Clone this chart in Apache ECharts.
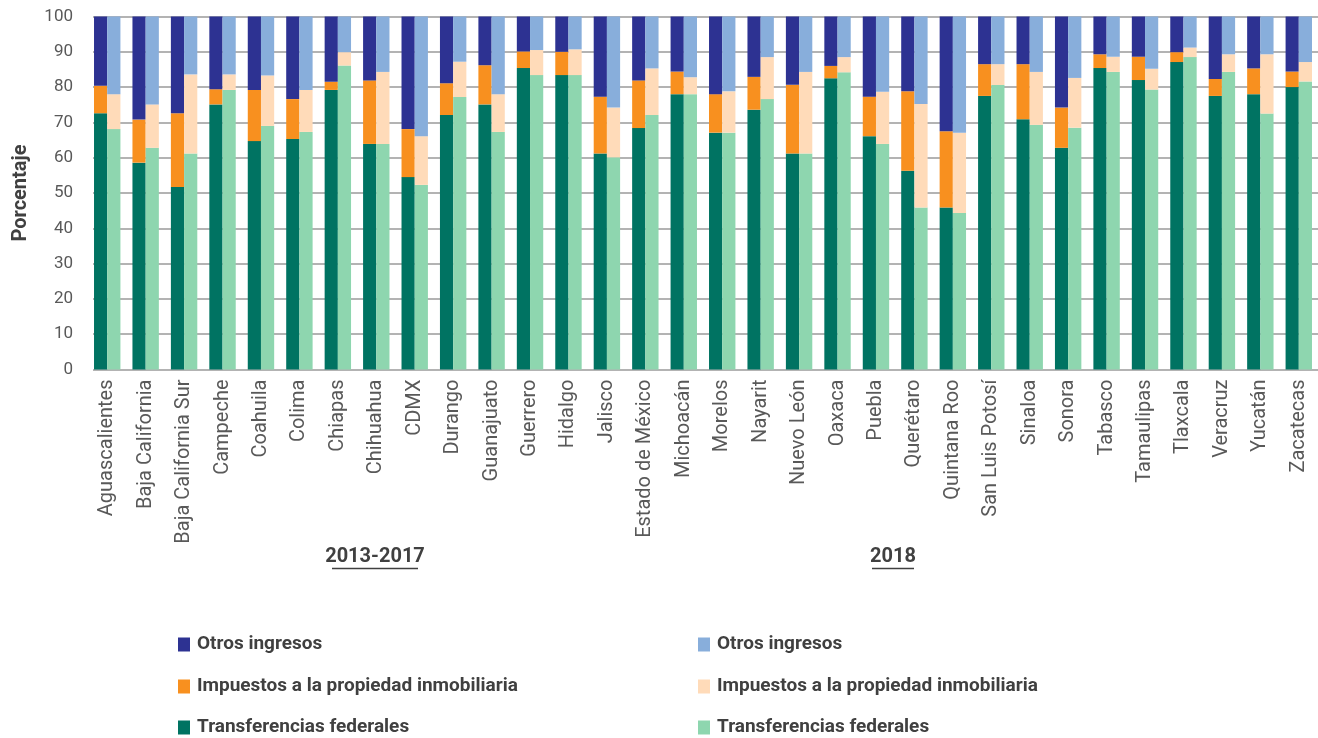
<!DOCTYPE html>
<html>
<head>
<meta charset="utf-8">
<script src="https://cdn.jsdelivr.net/npm/echarts@6/dist/echarts.min.js"></script>
<style>
html,body{margin:0;padding:0;background:#fff;}
#chart{width:1318px;height:738px;}
</style>
</head>
<body>
<div id="chart"></div>
<script>
const categories = ["Aguascalientes","Baja California","Baja California Sur","Campeche","Coahuila","Colima","Chiapas","Chihuahua","CDMX","Durango","Guanajuato","Guerrero","Hidalgo","Jalisco","Estado de México","Michoacán","Morelos","Nayarit","Nuevo León","Oaxaca","Puebla","Querétaro","Quintana Roo","San Luis Potosí","Sinaloa","Sonora","Tabasco","Tamaulipas","Tlaxcala","Veracruz","Yucatán","Zacatecas"];

// 2013-2017
const transf1317 = [72.6,58.6,51.7,75.1,64.7,65.3,79.2,63.9,54.5,72.1,75.1,85.4,83.4,61.2,68.4,78.0,67.1,73.6,61.2,82.5,66.1,56.3,45.9,77.5,70.9,62.8,85.4,82.0,87.1,77.5,78.0,80.0];
const impuestos1317 = [7.8,12.2,20.9,4.3,14.5,11.3,2.3,18.0,13.6,9.0,11.1,4.7,6.6,16.1,13.5,6.4,10.9,9.3,19.5,3.5,11.2,22.5,21.6,9.0,15.6,11.4,3.9,6.6,2.8,4.8,7.3,4.4];
const otros1317 = [19.6,29.2,27.4,20.6,20.8,23.4,18.5,18.1,31.9,18.9,13.8,9.9,10.0,22.7,18.1,15.6,22.0,17.1,19.3,14.0,22.7,21.2,32.5,13.5,13.5,25.8,10.7,11.4,10.1,17.7,14.7,15.6];

// 2018
const transf2018 = [68.1,62.8,61.2,79.2,69.0,67.3,86.1,63.9,52.3,77.2,67.3,83.4,83.4,60.1,72.1,78.0,67.1,76.6,61.2,84.2,63.9,45.9,44.3,80.6,69.3,68.5,84.3,79.3,88.5,84.3,72.5,81.6];
const impuestos2018 = [9.9,12.3,22.4,4.4,14.3,11.9,3.8,20.4,13.8,10.0,10.7,7.1,7.3,14.1,13.2,4.8,11.7,11.9,23.1,4.3,14.8,29.3,22.8,5.9,15.0,14.1,4.3,5.9,2.7,5.0,16.8,5.5];
const otros2018 = [22.0,24.9,16.4,16.4,16.7,20.8,10.1,15.7,33.9,12.8,22.0,9.5,9.3,25.8,14.7,17.2,21.2,11.5,15.7,11.5,21.3,24.8,32.9,13.5,15.7,17.4,11.4,14.8,8.8,10.7,10.7,12.9];

const yTicks = [0,10,20,30,40,50,60,70,80,90,100];
const groupLabels = ["2013-2017","2018"];
const legendNames = ["Otros ingresos","Impuestos a la propiedad inmobiliaria","Transferencias federales"];

const colors = {
  o1:"#2D3292", i1:"#F8901F", t1:"#007362",
  o2:"#88AEDB", i2:"#FFDBB9", t2:"#8ED6AF"
};

const chart = echarts.init(document.getElementById('chart'), null, {renderer:'canvas'});
const FONT = 'Roboto, "Liberation Sans", sans-serif';

function bar(name, data, stack, color) {
  return {
    name: name, type: 'bar', stack: stack, data: data,
    xAxisIndex: 1, yAxisIndex: 1,
    barWidth: 13.2, barGap: '0%', barCategoryGap: '0%',
    itemStyle: {color: color},
    emphasis: {disabled: true}
  };
}

const S = ' (' + groupLabels[0] + ')';
const S2 = ' (' + groupLabels[1] + ')';

function leg(name, suffix, left, top) {
  return {
    left: left, top: top, itemWidth: 12, itemHeight: 14, icon: 'rect',
    selectedMode: false, padding: 0,
    data: [name + suffix],
    formatter: function(n){ return n.replace(suffix, ''); },
    textStyle: {fontFamily: FONT, fontSize: 19, fontWeight: 'bold', color: '#404040', padding: [0,0,0,2]}
  };
}
const rowTops = [635, 677, 718];

const option = {
  animation: false,
  backgroundColor: '#ffffff',
  grid: [
    {left: 93, right: 0, top: 16.5, bottom: 368.5, containLabel: false},
    {left: 88, right: -6, top: 16.5, bottom: 368.5, containLabel: false}
  ],
  xAxis: [
    {type: 'value', gridIndex: 0, show: false, min: 0, max: 1},
    {type: 'category', gridIndex: 1, data: categories,
     axisLine: {show: false}, axisTick: {show: false},
     axisLabel: {rotate: 90, interval: 0, margin: 10, fontFamily: FONT, fontSize: 20, color: '#595959'}}
  ],
  yAxis: [
    {type: 'value', gridIndex: 0, min: 0, max: 100, interval: 10,
     name: 'Porcentaje', nameLocation: 'middle', nameGap: 62, nameRotate: 90,
     nameTextStyle: {fontFamily: FONT, fontSize: 20, fontWeight: 'bold', color: '#404040'},
     axisLine: {show: false}, axisTick: {show: false},
     axisLabel: {margin: 20, fontFamily: FONT, fontSize: 17, color: '#595959',
       formatter: function(v){ return yTicks.indexOf(v) >= 0 ? String(v) : ''; }},
     splitLine: {show: true, lineStyle: {color: '#9a9a9a', width: 1.5}}},
    {type: 'value', gridIndex: 1, min: 0, max: 100, show: false, splitLine: {show: false}}
  ],
  legend: [
    leg(legendNames[0], S, 178, rowTops[0]),
    leg(legendNames[1], S, 178, rowTops[1]),
    leg(legendNames[2], S, 178, rowTops[2]),
    leg(legendNames[0], S2, 698, rowTops[0]),
    leg(legendNames[1], S2, 698, rowTops[1]),
    leg(legendNames[2], S2, 698, rowTops[2])
  ],
  graphic: [
    {type: 'text', x: 375, y: 557, style: {text: groupLabels[0], font: 'bold 20px ' + FONT, fill: '#404040', textAlign: 'center', textVerticalAlign: 'middle'}},
    {type: 'line', shape: {x1: 332, y1: 568.5, x2: 418, y2: 568.5}, style: {stroke: '#404040', lineWidth: 1.5}},
    {type: 'text', x: 893, y: 557, style: {text: groupLabels[1], font: 'bold 20px ' + FONT, fill: '#404040', textAlign: 'center', textVerticalAlign: 'middle'}},
    {type: 'line', shape: {x1: 872, y1: 568.5, x2: 914, y2: 568.5}, style: {stroke: '#404040', lineWidth: 1.5}}
  ],
  series: [
    bar(legendNames[2] + S, transf1317, 'a', colors.t1),
    bar(legendNames[1] + S, impuestos1317, 'a', colors.i1),
    bar(legendNames[0] + S, otros1317, 'a', colors.o1),
    bar(legendNames[2] + S2, transf2018, 'b', colors.t2),
    bar(legendNames[1] + S2, impuestos2018, 'b', colors.i2),
    bar(legendNames[0] + S2, otros2018, 'b', colors.o2)
  ]
};
chart.setOption(option);
</script>
</body>
</html>
